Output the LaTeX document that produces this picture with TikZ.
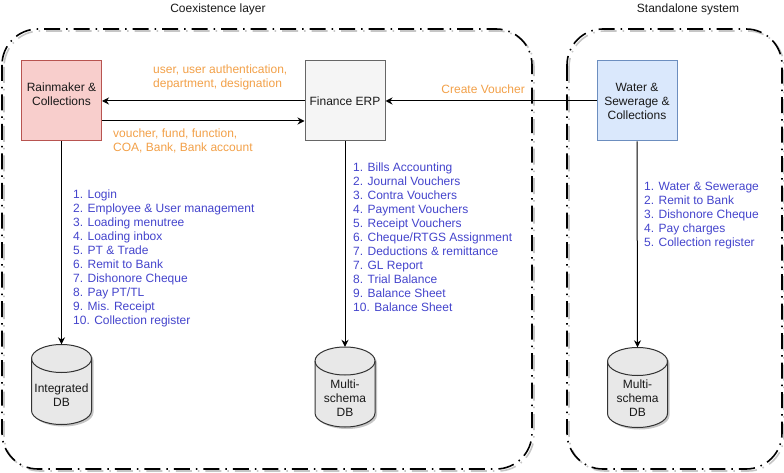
\documentclass[tikz,border=0pt]{standalone}
\usepackage{fontspec}
\setmainfont{Liberation Sans}
\usepackage{xcolor}
\usepackage{tikz}
\usetikzlibrary{arrows.meta,positioning,calc}

\definecolor{rainfill}{HTML}{F8CECC}
\definecolor{raindraw}{HTML}{B85450}
\definecolor{finfill}{HTML}{F5F5F5}
\definecolor{findraw}{HTML}{666666}
\definecolor{waterfill}{HTML}{DAE8FC}
\definecolor{waterdraw}{HTML}{6C8EBF}
\definecolor{msgorange}{HTML}{F2A048}
\definecolor{listblue}{HTML}{4444CC}
\definecolor{dbfill}{HTML}{E8E8E8}

\tikzset{
  sysbox/.style={draw, line width=1pt, minimum width=80pt, minimum height=80pt,
    align=center, inner sep=2pt, text=black!90},
  conn/.style={line width=1pt, -{Stealth[length=7pt,width=7pt]}},
  msg/.style={text=msgorange, align=left, inner sep=0pt},
  funclist/.style={text=listblue, align=left, inner sep=0pt, anchor=west},
  grouptitle/.style={text=black!90},
  groupline/.style={line width=1.6pt, rounded corners=36pt,
    dash pattern=on 16pt off 6pt on 1.5pt off 6pt},
  groupshadow/.style={groupline, draw=gray!45},
  dbshape/.style={draw=black!80, line width=1pt, fill=dbfill},
  dbcell/.style={minimum width=60pt, minimum height=80pt, inner sep=0pt},
  dbtext/.style={align=center, inner sep=0pt, text=black!90}
}

% cylinder: name, centre x, centre y, text
\newcommand{\dbcyl}[4]{%
  \fill[gray!45, shift={(2,-2)}] (#2-30,#3+26) -- (#2-30,#3-26)
    arc[start angle=180, end angle=360, x radius=30, y radius=14]
    -- (#2+30,#3+26) arc[start angle=0, end angle=180, x radius=30, y radius=14] -- cycle;
  \filldraw[dbshape] (#2-30,#3+26) -- (#2-30,#3-26)
    arc[start angle=180, end angle=360, x radius=30, y radius=14]
    -- (#2+30,#3+26) arc[start angle=0, end angle=180, x radius=30, y radius=14] -- cycle;
  \draw[dbshape, fill=none] (#2-30,#3+26)
    arc[start angle=180, end angle=360, x radius=30, y radius=14];
  \node[dbcell] (#1) at (#2,#3) {};
  \node[dbtext] (#1text) at (#2,#3-11) {#4};
}

\begin{document}
\begin{tikzpicture}[x=1pt, y=1pt, font=\fontsize{12}{14}\selectfont]
  \useasboundingbox (0,0) rectangle (784,-473);

  % group frames
  \draw[groupshadow, shift={(2,-2)}] (2,-29) rectangle (532,-469);
  \draw[groupline] (2,-29) rectangle (532,-469);
  \draw[groupshadow, shift={(2,-2)}] (567,-29) rectangle (782,-469);
  \draw[groupline] (567,-29) rectangle (782,-469);
  \node[grouptitle] (coextitle) at (218,-9) {Coexistence layer};
  \node[grouptitle] (standtitle) at (688,-9) {Standalone system};

  % systems
  \node[sysbox, fill=rainfill, draw=raindraw] (rain) at (61.5,-101) {Rainmaker \&\\Collections\\~};
  \node[sysbox, fill=finfill, draw=findraw] (fin) at (345,-101) {Finance ERP};
  \node[sysbox, fill=waterfill, draw=waterdraw] (water) at (637,-101) {Water \&\\Sewerage \&\\Collections};

  % databases
  \dbcyl{idb}{61.5}{-384.5}{Integrated\\DB}
  \dbcyl{findb}{345}{-387}{Multi-\\schema\\DB}
  \dbcyl{waterdb}{637.5}{-387.5}{Multi-\\schema\\DB}

  % data flows
  \draw[conn] (fin.west) -- (rain.east);
  \draw[conn] ([yshift=-20pt]rain.east) -- ([yshift=-20pt]fin.west);
  \draw[conn] (water.west) -- (fin.east);
  \draw[conn] (rain.south) -- (idb.north);
  \draw[conn] (fin.south) -- (findb.north);
  \draw[conn] (water.south) -- (waterdb.north);

  \node[msg, anchor=west] (userlbl) at (153,-77) {user, user authentication,\\department, designation};
  \node[msg, anchor=west] (voucherlbl) at (113,-141) {voucher, fund, function,\\COA, Bank, Bank account};
  \node[msg, anchor=east] (createlbl) at (525,-89) {Create Voucher};

  % functions
  \node[funclist] (rainlist) at (73,-258) {1. Login\\2. Employee \& User management\\3. Loading menutree\\4. Loading inbox\\5. PT \& Trade\\6. Remit to Bank\\7. Dishonore Cheque\\8. Pay PT/TL\\9. Mis. Receipt\\10. Collection register};
  \node[funclist] (finlist) at (353,-237.5) {1. Bills Accounting\\2. Journal Vouchers\\3. Contra Vouchers\\4. Payment Vouchers\\5. Receipt Vouchers\\6. Cheque/RTGS Assignment\\7. Deductions \& remittance\\7. GL Report\\8. Trial Balance\\9. Balance Sheet\\10. Balance Sheet};
  \node[funclist] (waterlist) at (644,-216) {1. Water \& Sewerage\\2. Remit to Bank\\3. Dishonore Cheque\\4. Pay charges\\5. Collection register};
\end{tikzpicture}
\end{document}
